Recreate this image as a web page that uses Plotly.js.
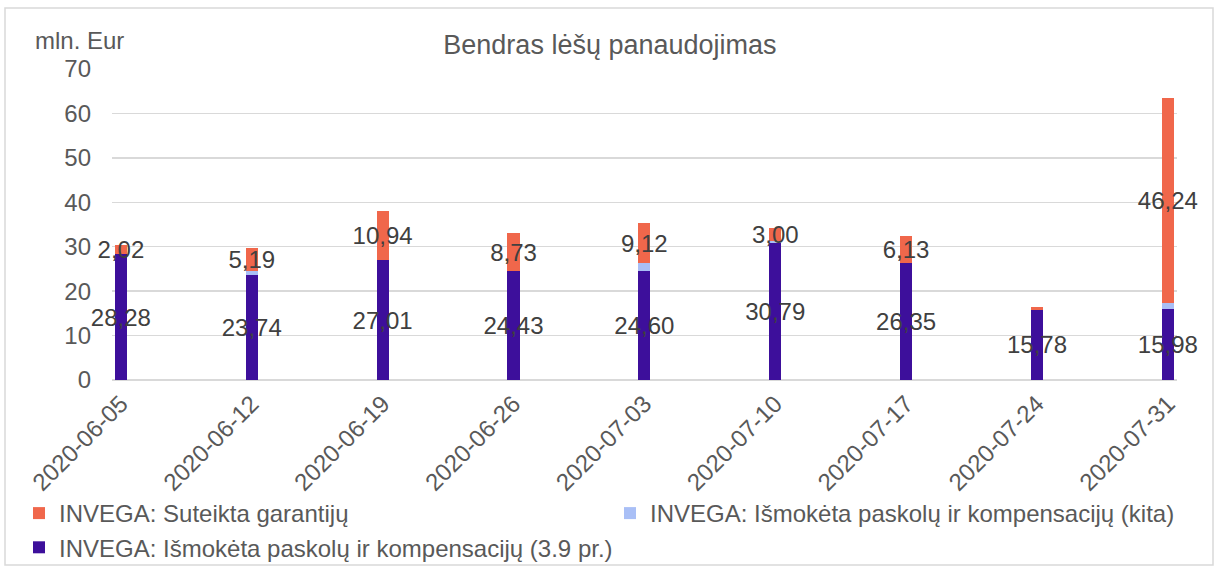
<!DOCTYPE html>
<html>
<head>
<meta charset="utf-8">
<script src="https://cdn.plot.ly/plotly-3.0.1.min.js"></script>
<style>html,body{margin:0;padding:0;background:#fff;}#chart{width:1215px;height:569px;}</style>
</head>
<body>
<div id="chart"></div>
<script>
var dates = ['2020-06-05','2020-06-12','2020-06-19','2020-06-26','2020-07-03','2020-07-10','2020-07-17','2020-07-24','2020-07-31'];
var paskolos39 = [28.28, 23.74, 27.01, 24.43, 24.60, 30.79, 26.35, 15.78, 15.98];
var paskolosKita = [0, 0.75, 0, 0, 1.65, 0.40, 0, 0, 1.35];
var garantijos = [2.02, 5.19, 10.94, 8.73, 9.12, 3.00, 6.13, 0.60, 46.24];
var garantijosShowLabel = [true, true, true, true, true, true, true, false, true];

var names = {
  garantijos: 'INVEGA: Suteikta garantijų',
  kita: 'INVEGA: Išmokėta paskolų ir kompensacijų (kita)',
  p39: 'INVEGA: Išmokėta paskolų ir kompensacijų (3.9 pr.)'
};
var colors = {garantijos: '#F0674B', kita: '#A9BFF6', p39: '#3D0F9B'};

function fmt(v){ return v.toFixed(2).replace('.', ','); }

var FONT = 'Liberation Sans, Arial, sans-serif';
var barW = 0.092;
var labelFont = {family: FONT, size: 24, color: '#404040'};

var traces = [
  {
    type: 'bar', x: dates, y: paskolos39, name: names.p39, legend: 'legend', legendrank: 3,
    marker: {color: colors.p39}, width: barW, cliponaxis: false,
    text: paskolos39.map(fmt), textposition: 'inside', insidetextanchor: 'middle',
    constraintext: 'none', insidetextfont: labelFont, textfont: labelFont, textangle: 0
  },
  {
    type: 'bar', x: dates, y: paskolosKita, name: names.kita, legend: 'legend2', legendrank: 2,
    marker: {color: colors.kita}, width: barW, cliponaxis: false
  },
  {
    type: 'bar', x: dates, y: garantijos, name: names.garantijos, legend: 'legend', legendrank: 1,
    marker: {color: colors.garantijos}, width: barW, cliponaxis: false,
    text: garantijos.map(function(v, i){ return garantijosShowLabel[i] ? fmt(v) : ''; }),
    textposition: 'inside', insidetextanchor: 'middle',
    constraintext: 'none', insidetextfont: labelFont, textfont: labelFont, textangle: 0
  }
];

var legendFont = {family: FONT, size: 24, color: '#595959'};
var layout = {
  width: 1215, height: 569,
  margin: {l: 112, r: 38, t: 69, b: 189},
  paper_bgcolor: '#ffffff', plot_bgcolor: '#ffffff',
  barmode: 'stack',
  font: {family: FONT, size: 24, color: '#595959'},
  title: {text: 'Bendras lėšų panaudojimas', font: {family: FONT, size: 27, color: '#595959'},
          x: 0.502, xref: 'container', xanchor: 'center', y: 1 - 45/569, yref: 'container', yanchor: 'middle'},
  xaxis: {
    type: 'category', range: [-0.068, 8.07], tickangle: -45, showgrid: false, zeroline: false,
    showline: false, ticks: '', tickfont: {family: FONT, size: 24, color: '#595959'}, ticklabelstandoff: 4
  },
  yaxis: {
    range: [0, 70], dtick: 10, showgrid: true, gridcolor: '#D9D9D9', gridwidth: 1.3,
    zeroline: true, zerolinecolor: '#D9D9D9', zerolinewidth: 1.3, showline: false, ticks: '',
    tickfont: {family: FONT, size: 24, color: '#595959'}, ticklabelstandoff: 20
  },
  showlegend: true,
  legend: {
    orientation: 'h', xref: 'container', yref: 'container',
    x: 19/1215, xanchor: 'left', y: 1 - 491/569, yanchor: 'top',
    traceorder: 'normal', entrywidth: 600, entrywidthmode: 'pixels',
    font: legendFont, bgcolor: 'rgba(0,0,0,0)'
  },
  legend2: {
    orientation: 'h', xref: 'container', yref: 'container',
    x: 610/1215, xanchor: 'left', y: 1 - 491/569, yanchor: 'top',
    traceorder: 'normal', font: legendFont, bgcolor: 'rgba(0,0,0,0)'
  },
  annotations: [
    {text: 'mln. Eur', xref: 'paper', yref: 'paper', x: (33-112)/1065, y: (380-40)/311,
     xanchor: 'left', yanchor: 'middle', showarrow: false, font: {family: FONT, size: 24, color: '#595959'}}
  ],
  shapes: [
    {type: 'rect', xref: 'paper', yref: 'paper', x0: (5-112)/1065, x1: (1213-112)/1065,
     y0: (380-565)/311, y1: (380-8)/311, line: {color: '#D9D9D9', width: 1.5}, layer: 'below'}
  ]
};

Plotly.newPlot('chart', traces, layout, {displayModeBar: false, staticPlot: true});
</script>
</body>
</html>
